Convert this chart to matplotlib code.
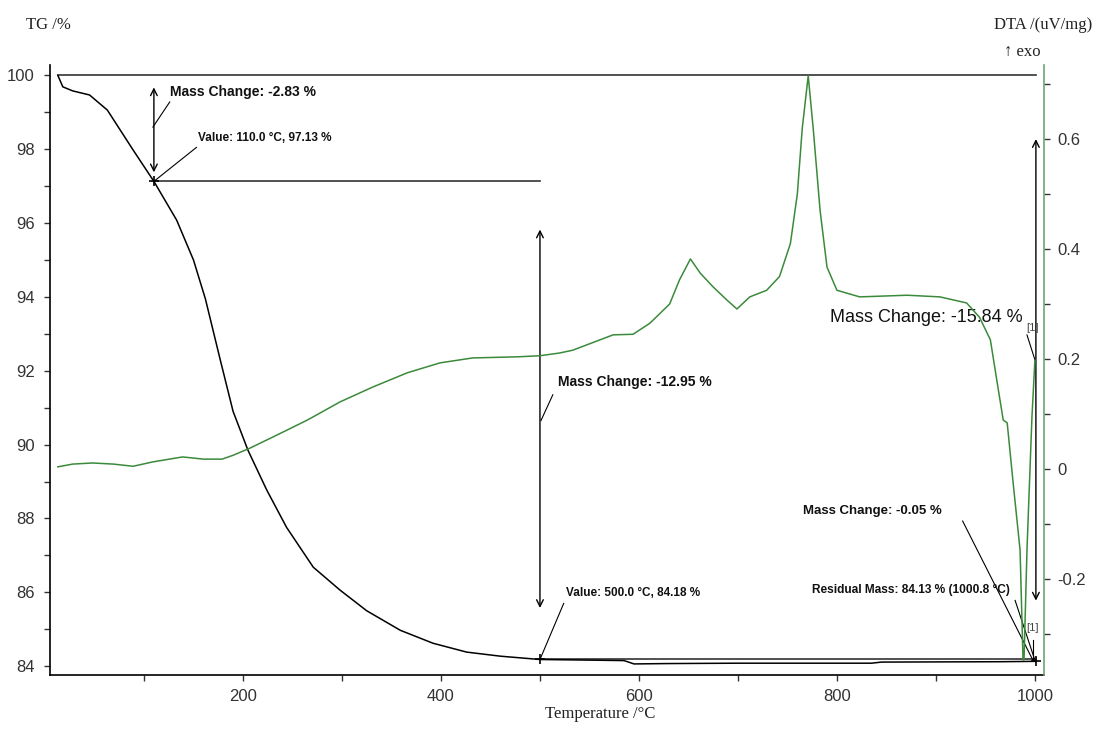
import matplotlib.pyplot as plt

# TG curve (mass %, black)
tg_temp = [13, 18, 28, 45, 63, 76, 89, 110, 133, 150, 162, 177, 190, 205, 224, 244,
           271, 298, 325, 359, 392, 426, 460, 500, 560, 585, 595, 630, 700, 835, 845,
           965, 1001]
tg_mass = [100.0, 99.69, 99.58, 99.47, 99.06, 98.52, 97.98, 97.13, 96.08, 95.0, 93.95,
           92.3, 90.9, 89.85, 88.77, 87.76, 86.68, 86.06, 85.5, 84.97, 84.62, 84.38,
           84.27, 84.18, 84.16, 84.15, 84.06, 84.07, 84.08, 84.08, 84.11, 84.12, 84.13]

# DTA curve (uV/mg, green)
dta_temp = [13, 28, 48, 69, 89, 109, 139, 160, 179, 190, 207, 230, 265, 298, 331, 366,
            399, 432, 477, 500, 520, 533, 574, 594, 611, 631, 641, 652, 662, 675, 689,
            699, 712, 729, 742, 753, 760, 765, 771, 776, 783, 790, 800, 823, 871, 904,
            931, 944, 955, 962, 968, 972, 978, 985, 988, 989, 992, 997, 1000]
dta_val = [0.004, 0.009, 0.011, 0.009, 0.005, 0.013, 0.022, 0.018, 0.018, 0.025, 0.038,
           0.058, 0.089, 0.122, 0.149, 0.175, 0.193, 0.202, 0.204, 0.206, 0.211, 0.216,
           0.244, 0.245, 0.265, 0.30, 0.344, 0.382, 0.356, 0.331, 0.307, 0.291, 0.313,
           0.325, 0.35, 0.41, 0.50, 0.62, 0.715, 0.62, 0.47, 0.367, 0.325, 0.313, 0.316,
           0.313, 0.302, 0.276, 0.235, 0.156, 0.089, 0.084, -0.025, -0.147, -0.347,
           -0.347, -0.147, 0.094, 0.198]

x_ticks = [200, 400, 600, 800, 1000]
tg_ticks = [84, 86, 88, 90, 92, 94, 96, 98, 100]
dta_ticks = [-0.2, 0, 0.2, 0.4, 0.6]
dta_tick_labels = ["-0.2", "0", "0.2", "0.4", "0.6"]

sans = ['Liberation Sans', 'DejaVu Sans']
serif = ['Liberation Serif', 'DejaVu Serif']
green = '#3b8a3b'
spine_green = '#6aa86a'

fig = plt.figure(figsize=(10.93, 7.31), dpi=100)
ax = fig.add_axes([0.0457, 0.0766, 0.9093, 0.8344])
ax2 = ax.twinx()

ax.plot(tg_temp, tg_mass, color='black', lw=1.1, zorder=3)
ax2.plot(dta_temp, dta_val, color=green, lw=1.1)

ax.set_xlim(5, 1009)
ax.set_ylim(83.76, 100.28)
ax2.set_ylim(-0.3745, 0.7345)

# spines
ax.spines['top'].set_visible(False)
ax.spines['right'].set_visible(False)
ax2.spines['top'].set_visible(False)
ax2.spines['left'].set_visible(False)
ax2.spines['bottom'].set_visible(False)
ax2.spines['right'].set_color(spine_green)
ax.spines['left'].set_linewidth(1.2)
ax.spines['bottom'].set_linewidth(1.2)
ax2.spines['right'].set_linewidth(1.2)

ax.set_xticks(x_ticks)
ax.set_xticks([100, 300, 500, 700, 900], minor=True)
ax.set_yticks(tg_ticks)
ax.set_yticks([85, 87, 89, 91, 93, 95, 97, 99], minor=True)
ax2.set_yticks(dta_ticks)
ax2.set_yticklabels(dta_tick_labels)
ax2.set_yticks([-0.3, -0.1, 0.1, 0.3, 0.5, 0.7], minor=True)

for a in (ax, ax2):
    a.tick_params(which='both', direction='out', length=4, width=1, color='#333333',
                  labelcolor='#333333', labelsize=12)
ax.tick_params(axis='y', pad=7)
ax.tick_params(axis='x', pad=6)
ax2.tick_params(axis='y', pad=6)
for lab in ax.get_xticklabels() + ax.get_yticklabels() + ax2.get_yticklabels():
    lab.set_family(sans)

# reference lines
ax.plot([13, 1001], [100, 100], color='#333333', lw=1.2)
ax.plot([110, 500], [97.13, 97.13], color='#333333', lw=1.2)
ax.plot([500, 1001], [84.18, 84.18], color='#333333', lw=1.2)
ax.plot([110, 500, 1000.8], [97.13, 84.18, 84.13], '+', color='black', ms=7, mew=1.2)

arrow = dict(arrowstyle='<->', lw=1, color='black', mutation_scale=12)
ax.annotate('', xy=(110, 99.75), xytext=(110, 97.3), arrowprops=arrow)
ax.annotate('', xy=(500, 95.9), xytext=(500, 85.5), arrowprops=arrow)
ax.annotate('', xy=(1001, 98.35), xytext=(1001, 85.7), arrowprops=arrow)

# connector lines
conn = dict(color='black', lw=0.8)
ax.plot([109, 126], [98.6, 99.28], **conn)
ax.plot([110, 153], [97.13, 98.05], **conn)
ax.plot([501, 513], [90.65, 91.35], **conn)
ax.plot([500, 524], [84.18, 85.7], **conn)
ax.plot([927, 998], [87.93, 84.16], **conn)
ax.plot([980, 1000], [85.78, 84.16], **conn)
ax.plot([992, 1000], [92.97, 92.3], **conn)
ax.plot([998, 998], [84.7, 84.2], **conn)

bold = dict(family=sans, fontweight='bold', color='#111111', va='center', ha='left')
ax.text(126, 99.55, 'Mass Change: -2.83 %', fontsize=10, **bold)
ax.text(154.5, 98.31, 'Value: 110.0 °C, 97.13 %', fontsize=8.5, **bold)
ax.text(518, 91.69, 'Mass Change: -12.95 %', fontsize=10, **bold)
ax.text(526, 85.98, 'Value: 500.0 °C, 84.18 %', fontsize=8.5, **bold)
ax.text(766, 88.2, 'Mass Change: -0.05 %', fontsize=9.5, **bold)
ax.text(775, 86.05, 'Residual Mass: 84.13 % (1000.8 °C)', fontsize=8.6, **bold)
ax.text(793, 93.43, 'Mass Change: -15.84 %', fontsize=13, family=sans,
        color='#111111', va='center', ha='left')
ax.text(998, 93.15, '[1]', fontsize=8, family=sans, color='#444444', ha='center', va='center')
ax.text(998, 85.02, '[1]', fontsize=8, family=sans, color='#444444', ha='center', va='center')

fig.text(0.024, 0.966, 'TG /%', family=serif, fontsize=12, color='#222222', va='center')
fig.text(0.999, 0.966, 'DTA /(uV/mg)', family=serif, fontsize=12, color='#222222',
         va='center', ha='right')
fig.text(0.919, 0.929, '↑ exo', family=serif, fontsize=12, color='#222222', va='center')
fig.text(0.549, 0.012, 'Temperature /°C', family=serif, fontsize=12, color='#222222',
         ha='center', va='bottom')

fig.savefig('out.png', dpi=100)
